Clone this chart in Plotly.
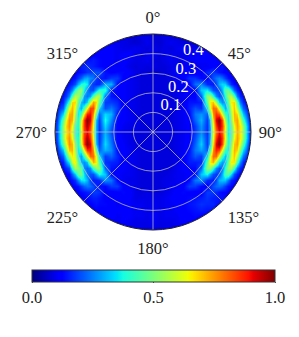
import numpy as np
import plotly.graph_objects as go

# Colour values in percent. Rows run top to bottom, one every 6 px.
# Column offsets from the disc centre, in px of the 196 px disc:
col_offsets = [6,12,18,24,30,36,42,48, 54,57,60,63,66,69,72,75,78,81,84,87,90, 96,102]

# columns -102 ... -54
z_left = [
[8,8,8,8,8,8,8,8,8,8,8,8,8,8,8],
[8,8,8,8,8,8,8,8,8,8,8,8,8,8,9],
[8,8,8,8,8,8,8,8,8,8,8,9,9,9,10],
[8,8,8,8,8,8,8,9,9,9,10,10,10,10,11],
[8,8,8,8,8,8,9,9,10,10,11,11,12,12,12],
[8,8,8,8,8,9,10,11,12,13,14,14,15,14,13],
[8,8,8,9,10,11,12,13,15,16,17,16,15,14,13],
[8,8,9,9,10,11,12,13,14,15,17,18,20,20,20],
[8,9,10,11,12,13,14,18,22,28,30,26,24,18,16],
[8,9,11,12,14,16,20,30,38,40,36,22,18,16,16],
[9,10,12,15,18,26,40,50,54,36,26,20,20,30,40],
[9,11,14,18,26,44,58,54,46,28,24,28,44,56,56],
[9,12,16,28,42,68,68,46,32,26,34,56,74,68,46],
[9,14,22,40,62,72,62,38,30,44,64,84,84,62,34],
[9,16,34,54,72,74,56,36,44,68,88,90,76,44,22],
[9,18,46,64,76,72,52,38,60,86,100,92,68,32,18],
[10,20,52,68,76,64,44,38,64,86,97,86,64,30,17],
[10,20,52,66,72,62,42,36,62,84,90,82,62,30,17],
[10,20,52,68,76,64,44,38,64,86,97,86,64,30,17],
[9,18,46,62,76,72,52,38,60,86,100,92,68,32,18],
[9,15,32,52,70,72,54,36,42,66,86,88,76,44,22],
[9,13,22,38,56,66,60,36,28,42,62,80,80,62,34],
[9,12,15,26,36,60,66,46,30,26,32,54,72,66,44],
[9,10,13,16,20,40,56,52,46,26,22,26,42,52,52],
[8,9,11,12,13,22,32,46,50,34,24,20,20,28,38],
[8,9,10,11,12,14,17,26,35,36,30,20,15,15,16],
[8,8,9,10,11,12,13,14,18,22,24,23,20,16,14],
[8,8,8,9,10,11,11,12,13,14,15,16,18,18,17],
[8,8,8,8,9,10,10,11,11,12,13,14,15,15,14],
[8,8,8,8,8,9,9,10,10,11,12,12,13,14,13],
[8,8,8,8,8,8,8,9,10,10,11,11,12,12,12],
[8,8,8,8,8,8,8,8,9,9,10,10,11,11,11],
[8,8,8,8,8,8,8,8,8,8,9,9,9,10,10],
[8,8,8,8,8,8,8,8,8,8,8,8,8,8,9],
[8,8,8,8,8,8,8,8,8,8,8,8,8,8,8],
]
# columns -48 ... 48
z_mid = [
[8,8,8,8,8,8,8,8,8,8,8,8,8,8,8,8,8],
[9,9,8,9,8,7,9,9,7,8,9,8,8,7,9,8,8],
[9,10,9,9,8,7,8,10,8,7,9,10,9,8,8,7,9],
[11,11,10,9,9,10,9,8,9,8,9,8,10,10,9,10,10],
[12,11,10,11,12,9,8,9,10,8,9,10,9,9,11,10,11],
[12,11,10,12,10,9,9,10,8,8,9,10,9,10,10,11,11],
[12,12,10,11,9,8,9,8,9,8,8,9,9,10,10,9,10],
[14,12,13,13,11,9,8,8,7,7,8,9,11,12,11,10,12],
[14,18,18,12,10,9,8,8,8,8,8,9,10,11,17,17,13],
[30,30,14,11,10,9,8,8,8,8,8,8,9,10,12,23,26],
[40,15,12,11,10,9,8,8,8,8,8,8,9,10,11,12,32],
[24,14,13,11,10,9,8,8,8,8,8,8,9,10,12,12,22],
[18,18,16,11,10,9,8,8,8,8,8,8,9,10,14,14,15],
[20,24,18,11,10,9,8,8,8,8,8,8,9,10,15,20,17],
[34,30,15,11,10,9,8,8,8,8,8,8,9,10,13,24,27],
[38,26,13,11,10,9,8,8,8,8,8,8,9,10,12,22,30],
[34,22,12,10,9,9,8,8,8,8,8,8,9,10,11,18,27],
[30,20,12,10,9,8,8,8,8,8,8,8,9,10,12,18,26],
[32,22,12,10,9,8,8,8,8,8,8,8,9,10,12,20,30],
[34,24,13,11,9,8,8,8,8,8,8,8,9,10,13,22,33],
[30,26,14,11,10,9,8,8,8,8,8,8,9,10,14,24,28],
[18,22,16,11,10,9,8,8,8,8,8,8,9,11,15,21,18],
[17,16,15,11,10,9,8,8,8,8,8,8,9,11,15,15,16],
[22,14,13,11,10,9,8,8,8,8,8,8,10,11,13,13,22],
[32,13,11,10,10,9,8,8,8,8,8,9,10,10,11,13,32],
[27,24,13,10,9,9,8,8,8,8,9,9,10,10,13,24,27],
[13,18,18,12,10,9,8,8,8,8,9,10,10,12,18,18,13],
[12,11,12,13,12,9,8,9,8,8,9,10,12,13,12,11,12],
[12,11,11,12,11,9,9,9,9,9,10,11,12,12,13,14,15],
[13,12,10,12,11,10,10,9,10,9,10,10,11,12,14,15,17],
[12,12,11,11,11,10,10,9,10,9,10,10,11,12,13,14,15],
[11,12,10,11,11,10,10,9,11,9,10,10,10,12,12,13,12],
[9,10,10,11,10,9,9,9,10,9,9,9,10,11,11,12,10],
[9,9,9,9,9,9,9,8,9,8,9,9,9,9,9,9,9],
[8,8,8,8,8,8,8,8,8,8,8,8,8,8,8,8,8],
]
# columns 54 ... 102
z_right = [
[8,8,8,8,8,8,8,8,8,8,8,8,8,8,8],
[9,8,8,8,8,8,8,8,8,8,8,8,8,8,8],
[9,9,9,8,8,8,8,8,8,8,8,8,8,8,8],
[10,9,9,9,9,9,8,8,8,8,8,8,8,8,8],
[11,10,10,10,10,9,9,9,8,8,8,8,8,8,8],
[11,11,11,11,11,10,10,9,9,8,8,8,8,8,8],
[10,11,12,13,13,14,12,11,10,9,9,8,8,8,8],
[16,17,18,16,14,13,12,11,10,10,9,9,8,8,8],
[13,16,20,24,26,23,18,14,12,11,10,10,9,8,8],
[16,15,15,20,30,34,33,24,16,13,12,11,10,9,8],
[36,28,20,18,20,30,46,48,36,22,15,12,11,9,9],
[52,54,40,26,20,24,40,54,58,44,24,16,13,10,9],
[46,66,70,54,34,26,30,46,66,68,44,24,16,10,9],
[34,62,80,78,60,42,30,38,60,70,56,36,22,12,9],
[22,44,76,86,82,62,42,36,54,72,68,48,32,14,9],
[18,32,68,92,100,84,56,36,50,70,74,60,42,17,9],
[17,30,64,86,97,86,64,38,44,64,74,66,52,20,10],
[17,30,62,80,90,82,62,36,42,62,72,66,52,20,10],
[18,30,64,86,97,86,64,38,44,64,74,66,52,20,10],
[18,32,68,92,100,84,58,38,50,70,74,60,44,17,10],
[22,44,76,88,84,64,42,36,56,72,68,50,34,14,9],
[34,62,80,80,62,42,32,40,60,70,58,38,24,12,9],
[46,66,72,56,36,28,30,48,66,66,44,26,16,10,9],
[52,54,40,26,20,24,40,54,56,42,24,16,13,10,9],
[38,28,20,18,20,30,44,46,34,20,15,12,11,9,8],
[16,15,15,20,30,32,32,24,16,14,12,11,10,9,8],
[12,16,20,23,24,22,18,14,13,12,11,10,9,8,8],
[18,18,18,16,14,13,13,12,11,10,10,9,9,8,8],
[17,16,15,15,14,14,13,12,11,10,9,9,8,8,8],
[16,16,16,14,14,13,12,11,10,10,9,8,8,8,8],
[14,14,13,12,12,11,10,10,9,9,8,8,8,8,8],
[12,11,10,10,10,9,9,9,8,8,8,8,8,8,8],
[10,9,9,9,8,8,8,8,8,8,8,8,8,8,8],
[8,8,8,8,8,8,8,8,8,8,8,8,8,8,8],
[8,8,8,8,8,8,8,8,8,8,8,8,8,8,8],
]
angle_ticks = [0, 45, 90, 135, 180, 225, 270, 315]
angle_labels = ["0°", "45°", "90°", "135°", "180°", "225°", "270°", "315°"]
radial_ticks = [0.1, 0.2, 0.3, 0.4]
radial_labels = ["0.1", "0.2", "0.3", "0.4"]
bar_ticks = [0.0, 0.5, 1.0]
bar_labels = ["0.0", "0.5", "1.0"]

jet = [[0,"rgb(0,0,127)"],[0.11,"rgb(0,0,255)"],[0.125,"rgb(0,0,255)"],
       [0.34,"rgb(0,219,255)"],[0.35,"rgb(0,229,247)"],[0.375,"rgb(21,255,226)"],
       [0.64,"rgb(238,255,8)"],[0.65,"rgb(247,246,0)"],[0.66,"rgb(255,236,0)"],
       [0.89,"rgb(255,19,0)"],[0.91,"rgb(232,0,0)"],[1,"rgb(127,0,0)"]]

# the page keeps an 8 px margin around the figure
W, H = 291, 329
cx, cy, R = 145, 124, 98
font = "Liberation Serif"
z = np.hstack([np.array(z_left), np.array(z_mid), np.array(z_right)], dtype=float) / 100
half = np.array(col_offsets, dtype=float)
col_px = np.concatenate([-half[::-1], [0.0], half])
row_px = (np.arange(z.shape[0]) - (z.shape[0] - 1) / 2) * 6
dom_x = [(cx - R) / W, (cx + R) / W]
dom_y = [1 - (cy + R) / H, 1 - (cy - R) / H]

fig = go.Figure()
fig.add_trace(go.Heatmap(
    x=col_px / (2 * R), y=-row_px / (2 * R), z=z, zmin=0, zmax=1, zsmooth="best",
    colorscale=jet, hoverinfo="skip",
    colorbar=dict(orientation="h", xref="container", yref="container",
                  x=145.5 / W, xanchor="center", y=1 - 262 / H, yanchor="top",
                  len=243 / W, lenmode="fraction", thickness=12, thicknessmode="pixels",
                  xpad=0, ypad=0, outlinecolor="#333", outlinewidth=1,
                  tickmode="array", tickvals=bar_ticks, ticktext=bar_labels,
                  ticks="outside", ticklen=1, tickcolor="#555",
                  tickfont=dict(family=font, size=16.5, color="#222"))))
# white surround that turns the square image into a disc
t = np.linspace(2 * np.pi, 0, 361)
mask_x = np.concatenate([0.5 * np.cos(t), [0.6, 0.6, -0.6, -0.6, 0.6, 0.5]])
mask_y = np.concatenate([0.5 * np.sin(t), [0, 0.6, 0.6, -0.6, -0.6, 0]])
fig.add_trace(go.Scatter(x=mask_x, y=mask_y, mode="lines", fill="toself",
                         fillcolor="white", line=dict(width=0), hoverinfo="skip",
                         showlegend=False))
fig.add_trace(go.Scatterpolar(r=radial_ticks, theta=[22.5] * 4, text=radial_labels,
                              mode="text", textposition="top right", showlegend=False,
                              textfont=dict(family=font, size=16.5, color="white"),
                              hoverinfo="skip"))
fig.update_layout(
    width=W, height=H, margin=dict(l=0, r=0, t=0, b=0, autoexpand=False), autosize=False,
    paper_bgcolor="white", plot_bgcolor="white", showlegend=False,
    xaxis=dict(domain=dom_x, range=[-0.5, 0.5], visible=False, fixedrange=True),
    yaxis=dict(domain=dom_y, range=[-0.5, 0.5], visible=False, fixedrange=True),
    polar=dict(
        domain=dict(x=dom_x, y=dom_y), bgcolor="rgba(0,0,0,0)",
        radialaxis=dict(range=[0, 0.5], tickvals=radial_ticks, showticklabels=False,
                        ticks="", showline=False, gridcolor="rgba(195,195,195,0.75)",
                        gridwidth=0.7, layer="above traces"),
        angularaxis=dict(rotation=90, direction="clockwise", tickmode="array",
                         tickvals=angle_ticks, ticktext=angle_labels,
                         ticks="outside", ticklen=4, tickcolor="rgba(0,0,0,0)",
                         gridcolor="rgba(195,195,195,0.75)", gridwidth=0.7,
                         linecolor="#222", linewidth=1, showline=True,
                         layer="above traces",
                         tickfont=dict(family=font, size=16.5, color="#222"))))
fig.write_html("out.html")
